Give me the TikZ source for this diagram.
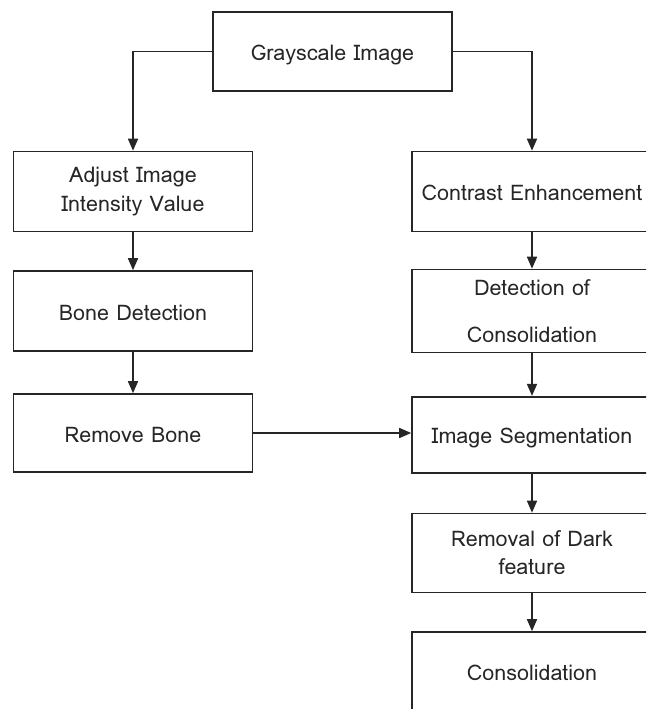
\documentclass[tikz,border=0pt]{standalone}
\usepackage{fontspec}
\newfontfamily\boxfont[Script=Thai]{Loma}
\usetikzlibrary{arrows.meta}
\begin{document}
\begin{tikzpicture}[x=1pt,y=-1pt,
  stepbox/.style={draw=black!85,line width=1.6pt,rectangle,minimum width=239pt,
    inner sep=0pt,font=\boxfont\fontsize{21.5}{29}\selectfont,text=black!85,align=center},
  oneline/.style={text height=18.5pt,text depth=0pt},
  flow/.style={draw=black!85,line width=1.6pt,-{Triangle[length=12pt,width=10pt]}}]
\clip (0,0) rectangle (646,709);
\useasboundingbox (0,0) rectangle (646,709);

\node[stepbox,oneline,minimum height=79pt] (gray) at (332.5,51.5) {Grayscale Image};

\node[stepbox,minimum height=80pt] (adjust) at (133,191.5) {Adjust Image\\Intensity Value};
\node[stepbox,oneline,minimum height=80pt] (bone) at (133,311) {Bone Detection};
\node[stepbox,oneline,minimum height=78pt] (remove) at (133,433) {Remove Bone};

\node[stepbox,oneline,minimum width=240pt,minimum height=80pt] (contrast) at (532,191.5) {Contrast Enhancement};
\node[stepbox,minimum width=240pt,minimum height=83pt] (detect) at (532,311) {Detection of\\[18pt]Consolidation};
\node[stepbox,oneline,minimum width=240pt,minimum height=76pt] (seg) at (532,434.7) {Image Segmentation};
\node[stepbox,minimum width=240pt,minimum height=79pt] (dark) at (532,553) {Removal of Dark\\[-1pt]feature};
\node[stepbox,oneline,minimum width=240pt,minimum height=79pt] (consol) at (532,671.5) {Consolidation};

\draw[flow] (gray.west) -| (adjust.north);
\draw[flow] (gray.east) -| (contrast.north);
\draw[flow] (adjust) -- (bone);
\draw[flow] (bone) -- (remove);
\draw[flow] (contrast) -- (detect);
\draw[flow] (detect) -- (seg);
\draw[flow] (remove.east) -- (remove.east -| seg.west);
\draw[flow] (seg) -- (dark);
\draw[flow] (dark) -- (consol);
\end{tikzpicture}
\end{document}
